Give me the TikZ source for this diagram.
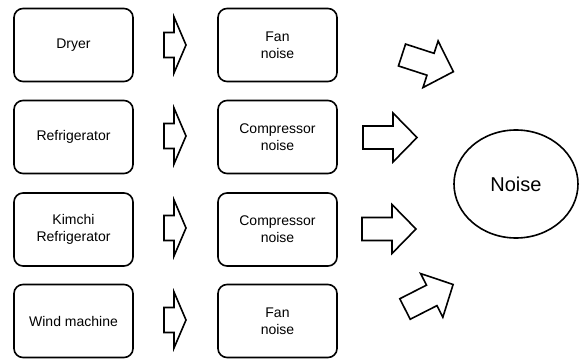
\documentclass[tikz,border=0pt]{standalone}
\usepackage{fontspec}
\setmainfont{Liberation Sans}
\usetikzlibrary{shapes.geometric}
\begin{document}
\begin{tikzpicture}[x=1pt,y=-1pt,
  box/.style={draw,line width=1.6pt,rounded corners=9pt,minimum width=119pt,minimum height=73pt,align=center,font=\fontsize{14}{17}\selectfont,inner sep=0pt},
  blk/.style={draw,line width=1.6pt,line join=miter,fill=white},
  pics/barrow/.style args={#1/#2/#3/#4}{code={
    \draw[blk] (0,-#3) -- ({#1-#2},-#3) -- ({#1-#2},-#4) -- (#1,0) -- ({#1-#2},#4) -- ({#1-#2},#3) -- (0,#3) -- cycle;}}
]
\useasboundingbox (0,0) rectangle (579,361);
% left boxes
\node[box] (a1) at (73.5,45) {Dryer};
\node[box] (a2) at (73.5,137) {Refrigerator};
\node[box] (a3) at (73.5,229.5) {Kimchi\\Refrigerator};
\node[box] (a4) at (73.5,321) {Wind machine};
% right boxes
\node[box] (b1) at (277.5,45) {Fan\\noise};
\node[box] (b2) at (277.5,137) {Compressor\\noise};
\node[box] (b3) at (277.5,229.5) {Compressor\\noise};
\node[box] (b4) at (277.5,321) {Fan\\noise};
% noise ellipse
\node[draw,ellipse,line width=1.6pt,minimum width=124pt,minimum height=108pt,inner sep=0pt,font=\fontsize{20}{24}\selectfont] (n) at (516,184) {Noise};
% small arrows
\pic at (164,45) {barrow=22/12/12.5/28};
\pic at (164,136) {barrow=22/12/12.5/28};
\pic at (164,228) {barrow=22/12/12.5/28};
\pic at (164,320) {barrow=22/12/12.5/28};
% big arrows
\pic at (363,137.5) {barrow=54/24/11.5/24.5};
\pic at (362,229) {barrow=54/24/11.5/24.5};
\pic[rotate=-18] at (402,55) {barrow=54/24/11.5/24.5};
\pic[rotate=27] at (405,309) {barrow=54/24/11.5/24.5};
\end{tikzpicture}
\end{document}
